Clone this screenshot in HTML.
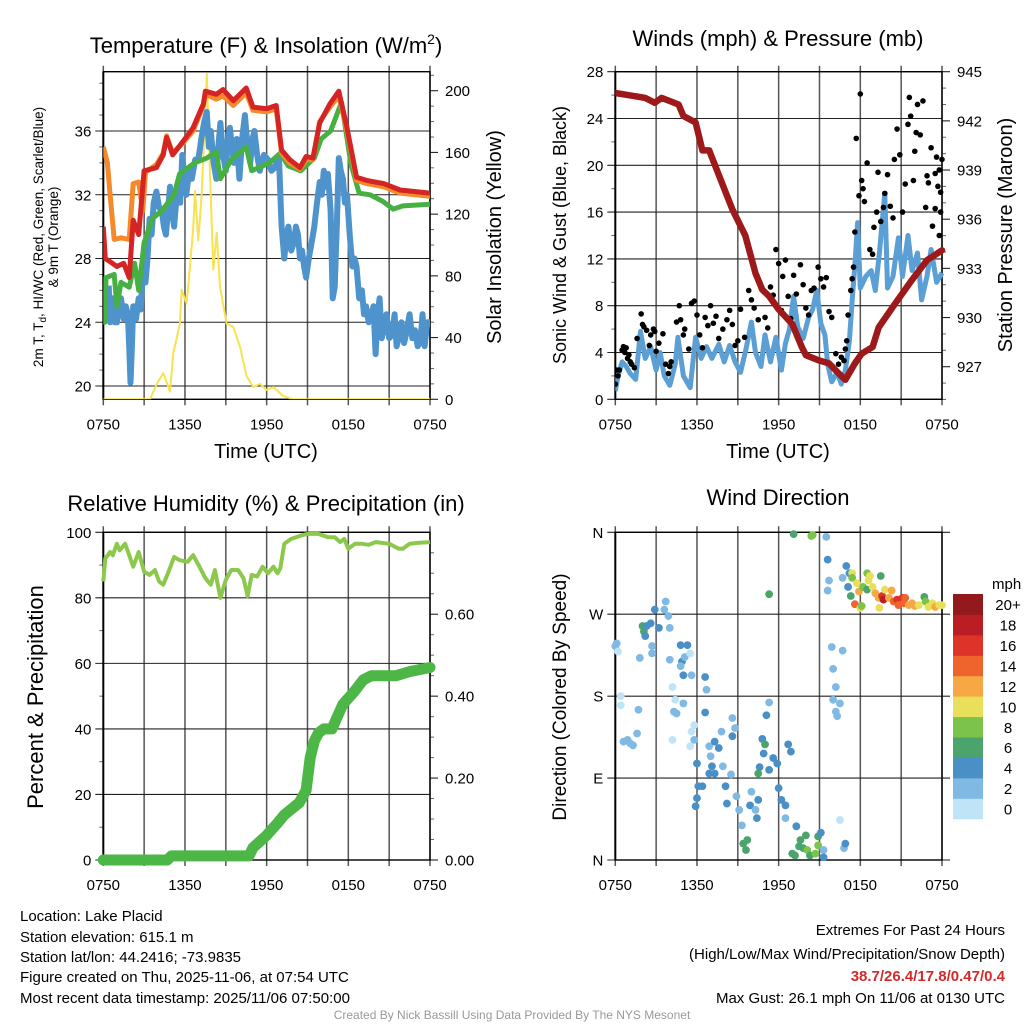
<!DOCTYPE html>
<html><head><meta charset="utf-8"><style>
html,body{margin:0;padding:0;background:#fff;}
svg{display:block;font-family:"Liberation Sans",Arial,sans-serif;}
</style></head><body>
<svg id="fig" width="1024" height="1024" viewBox="0 0 1024 1024" xmlns="http://www.w3.org/2000/svg">
<rect width="1024" height="1024" fill="#fff"/>
<g id="layer"></g>
<text x="266" y="53" text-anchor="middle" font-size="22">Temperature (F) &amp; Insolation (W/m<tspan font-size="14" dy="-9">2</tspan><tspan dy="9">)</tspan></text>
<text x="778" y="46" text-anchor="middle" font-size="22">Winds (mph) &amp; Pressure (mb)</text>
<text x="266" y="511" text-anchor="middle" font-size="22">Relative Humidity (%) &amp; Precipitation (in)</text>
<text x="778" y="505" text-anchor="middle" font-size="22">Wind Direction</text>
<text x="266" y="458" text-anchor="middle" font-size="20">Time (UTC)</text>
<text x="778" y="458" text-anchor="middle" font-size="20">Time (UTC)</text>
<text transform="translate(43,237) rotate(-90)" text-anchor="middle" font-size="13.5">2m T, T<tspan font-size="10" dy="3">d</tspan><tspan dy="-3">, HI/WC (Red, Green, Scarlet/Blue)</tspan></text>
<text transform="translate(58,237) rotate(-90)" text-anchor="middle" font-size="13.5">&amp; 9m T (Orange)</text>
<text transform="translate(501,237) rotate(-90)" text-anchor="middle" font-size="20">Solar Insolation (Yellow)</text>
<text transform="translate(566,235) rotate(-90)" text-anchor="middle" font-size="18">Sonic Wind &amp; Gust (Blue, Black)</text>
<text transform="translate(1012,235) rotate(-90)" text-anchor="middle" font-size="20">Station Pressure (Maroon)</text>
<text transform="translate(43,697) rotate(-90)" text-anchor="middle" font-size="22">Percent &amp; Precipitation</text>
<text transform="translate(566,697) rotate(-90)" text-anchor="middle" font-size="19">Direction (Colored By Speed)</text>
<g font-size="15">
<text x="20" y="921">Location: Lake Placid</text>
<text x="20" y="942">Station elevation: 615.1 m</text>
<text x="20" y="962">Station lat/lon: 44.2416; -73.9835</text>
<text x="20" y="982">Figure created on Thu, 2025-11-06, at 07:54 UTC</text>
<text x="20" y="1003">Most recent data timestamp: 2025/11/06 07:50:00</text>
</g>
<g font-size="15" text-anchor="end">
<text x="1005" y="935">Extremes For Past 24 Hours</text>
<text x="1005" y="959">(High/Low/Max Wind/Precipitation/Snow Depth)</text>
<text x="1005" y="981" fill="#d42a2a" font-weight="bold">38.7/26.4/17.8/0.47/0.4</text>
<text x="1005" y="1003">Max Gust: 26.1 mph On 11/06 at 0130 UTC</text>
</g>
<text x="512" y="1019" text-anchor="middle" font-size="12" fill="#999">Created By Nick Bassill Using Data Provided By The NYS Mesonet</text>
</svg>
<script>
// ---- DATA ----
const timeTicks = ["0750","1350","1950","0150","0750"];
const redT_h = [0,0.15,0.5,1.0,1.5,1.9,2.2,2.6,3.0,3.9,4.4,4.65,5.1,5.9,6.6,7.35,7.5,8.3,8.8,9.55,10.5,11.0,12.0,12.7,13.1,13.7,14.45,14.9,15.4,15.9,16.65,17.3,17.9,18.6,19.35,20.6,21.8,24];
const redT_v = [30,28,27.8,27.5,27.7,26.8,30.4,29.5,33.5,33.7,34.5,35.6,34.5,35.4,36.2,37.7,38.5,38.3,38.6,37.9,38.7,37.5,37.4,37.6,34.8,34.2,33.7,34.4,34.3,36.5,37.7,38.5,36.2,33.1,32.9,32.7,32.3,32.1];
const orangeT_h = [0,0.3,0.5,0.8,1.3,1.9,2.2,2.6,2.9,3.1,3.9,4.4,4.65,5.1,5.9,6.6,7.35,7.5,8.3,8.8,9.55,10.5,11.0,12.0,12.7,13.1,13.7,14.45,14.9,15.4,15.9,16.65,17.3,17.9,18.6,19.35,20.6,21.8,24];
const orangeT_v = [35,34,32,29.2,29.3,29.2,32.7,32.8,31,33.4,33.9,34.6,35.7,34.6,35.3,36,37.6,38.3,38,38.2,37.6,38.4,37.3,37.2,37.4,34.6,34,33.6,34.2,34.2,36.6,37.5,38.2,36,32.9,32.7,32.5,32.1,31.9];
const greenT_h = [0,0.1,0.2,0.8,1.0,1.3,1.9,2.3,2.6,3.0,3.6,4.3,5.2,5.6,6.7,7.6,8.3,8.6,9.4,10.5,10.9,12.2,13.0,13.6,14.5,15.5,16.0,16.7,17.5,18.2,18.8,19.6,20.5,21.3,22.0,24];
const greenT_v = [25.7,24,26.8,27,25,26.5,26.2,27.7,26,29,30.5,31,32,33.3,34,34.3,34.7,33,34.2,35,33.5,34,34.6,33.8,33.5,34.3,35.5,36,37.8,33.9,32.1,32,31.6,31.1,31.3,31.4];
const blueT_h = [0.4,0.5,0.7,0.85,1.0,1.15,1.3,1.5,1.65,1.8,1.9,2.0,2.1,2.2,2.4,2.6,2.75,2.9,3.1,3.25,3.4,3.55,3.7,3.9,4.1,4.3,4.45,4.6,4.75,4.9,5.05,5.2,5.35,5.5,5.65,5.8,5.95,6.1,6.3,6.5,6.75,7.0,7.2,7.4,7.6,7.75,7.9,8.1,8.3,8.45,8.6,8.8,9.0,9.15,9.3,9.45,9.6,9.8,10.0,10.2,10.4,10.6,10.8,10.95,11.1,11.3,11.5,11.8,12.1,12.35,12.6,12.9,13.1,13.3,13.45,13.6,13.8,14.0,14.15,14.3,14.45,14.6,14.75,14.9,15.1,15.3,15.5,15.7,15.9,16.05,16.2,16.35,16.5,16.7,16.85,17.0,17.15,17.3,17.45,17.6,17.75,17.9,18.1,18.3,18.45,18.6,18.8,19.0,19.15,19.3,19.5,19.7,19.85,20.0,20.15,20.3,20.45,20.6,20.8,21.0,21.2,21.4,21.55,21.7,21.9,22.1,22.3,22.5,22.7,22.9,23.1,23.3,23.45,23.6,23.8,24];
const blueT_v = [26.3,24,25.5,24,24,25,25.5,24.2,25,24.5,22.5,20.2,22.5,25,24.2,25.5,24.8,27,26.5,28,30.5,29.5,31.5,32.2,31.2,31,30,29.5,31,32.5,31,30,31.5,32.5,31.5,34.5,33,32,33.5,33,34.2,34.3,35.5,36.5,37.2,35,36,34,33,35,36.5,34.5,33.5,35.5,36.2,35,34,35.5,33,35.5,37,35,34,35.5,36,34.5,33.5,34.5,34.2,33.5,33.7,34.4,30,28,29.5,30,28.5,29,30,29.5,28,28.5,27.5,26.8,28,29,30,31.5,32.8,32,33.5,32.5,33.3,31,25.5,26.2,30,34.3,33.5,33,31.5,32,29.5,27.5,28,27.5,25.5,26,24.5,25,24,24.5,25,22,24.5,25.5,23,23.5,24.5,23,23.2,24.5,22.5,23,24,22.7,23.5,24.5,23,23.5,22.5,22.8,24.5,22.5,24,24];
const solar_h = [0,3.43,3.92,4.41,4.9,5.14,5.63,5.76,6.12,6.37,6.61,6.74,6.98,7.23,7.6,7.84,8.08,8.33,8.57,9.06,9.55,10.04,10.53,11.02,11.51,12.0,12.49,13.23,13.96,24];
const solar_v = [0,0,10,17,5,30,49,71,62,86,112,135,103,133,211,146,84,108,73,49,47,34,15,8,10,6,8,2,0,0];

const pres_h = [0,2.2,2.9,3.4,4.65,5.0,5.9,6.4,6.9,7.6,8.6,9.55,10.3,10.8,11.3,12.0,13.0,13.7,14.0,14.9,15.7,16.4,16.9,17.6,18.1,18.9,19.35,20.6,21.8,22.9,24];
const pres_v = [943.7,943.4,943.1,943.4,943.0,942.3,941.9,940.2,940.2,938.7,936.6,935.0,932.7,931.7,931.3,930.5,929.6,928.2,927.7,927.4,927.2,926.6,926.2,927.2,927.8,928.2,929.4,930.9,932.3,933.5,934.1];
const wind_h = [0,0.2,0.5,0.8,1.1,1.5,1.85,2.2,2.6,3.0,3.3,3.6,4.0,4.4,4.6,5.0,5.5,5.9,6.3,6.7,7.1,7.6,8.0,8.4,8.8,9.2,9.6,10.0,10.3,10.7,11.0,11.4,11.8,12.2,12.5,12.8,13.1,13.4,13.8,14.2,14.5,14.8,15.1,15.4,15.6,15.9,16.3,16.6,16.9,17.2,17.4,17.6,17.8,18.0,18.4,18.8,19.1,19.4,19.8,20.0,20.4,20.8,21.1,21.5,21.8,22.2,22.5,22.9,23.2,23.6,24];
const wind_v = [0.7,2,3.2,2.8,2.2,1.7,5.8,3.5,4.5,2.5,4.0,2.0,1.2,3.0,5.3,2.0,1.0,5.3,3.5,4.5,3.5,4.7,3.2,4.6,3.2,2.3,4.3,6.6,4.0,2.8,5.5,3.2,5.3,2.5,4.8,6.0,8.8,6.2,5.2,7.0,7.7,9.3,6.5,5.5,3.0,1.5,2.3,1.3,2.5,5.0,8.5,11.5,15.1,9.5,10.5,11.0,9.3,12.5,17.6,9.5,10.5,13.8,10.5,14.0,11.0,12.5,8.5,10.5,12.8,10.0,10.8];
const gust_h = [0.0,0.1,0.2,0.3,0.5,0.6,0.7,0.8,0.9,1.0,1.1,1.2,1.4,1.6,1.9,2.0,2.1,2.3,2.5,2.6,2.8,2.9,3.0,3.2,3.5,3.7,3.9,4.0,4.1,4.5,4.7,4.8,5.0,5.1,5.4,5.6,5.8,6.0,6.2,6.4,6.6,6.8,7.0,7.2,7.4,7.6,7.9,8.2,8.4,8.6,8.8,9.0,9.2,9.5,9.8,10.0,10.2,10.5,10.8,11.0,11.2,11.4,11.6,11.8,12.0,12.2,12.3,12.5,12.7,12.9,13.1,13.3,13.6,13.8,14.0,14.2,14.4,14.6,14.9,15.1,15.3,15.5,15.7,15.9,16.2,16.4,16.6,16.8,16.9,17.0,17.1,17.3,17.4,17.5,17.6,17.7,17.9,18.0,18.1,18.2,18.3,18.5,18.7,18.9,19.0,19.2,19.3,19.5,19.7,19.8,20.0,20.2,20.4,20.5,20.7,20.9,21.1,21.3,21.5,21.6,21.7,21.9,22.0,22.1,22.2,22.4,22.6,22.8,22.9,23.0,23.2,23.3,23.5,23.5,23.6,23.7,23.8,23.8,23.9,23.9,24.0];
const gust_v = [1.3,2.5,2.0,2.5,4.2,4.5,4.0,4.4,3.5,3.8,3.2,3.0,2.7,5.2,7.3,6.4,6.2,5.9,4.6,5.5,6.0,5.8,4.1,4.8,5.6,3.0,2.2,2.8,3.2,6.6,8.0,6.8,5.5,6.0,4.3,8.2,8.4,7.2,5.5,4.4,7.0,6.3,8.0,6.5,7.1,5.2,6.0,6.8,7.6,6.4,4.6,5.0,7.7,5.3,9.3,8.5,7.8,6.8,9.4,7.0,6.1,9.6,8.9,12.8,11.6,7.6,10.5,11.9,8.8,6.9,10.6,9.0,11.5,9.8,7.8,7.2,9.3,9.5,11.3,10.3,9.6,10.4,7.5,7.0,3.9,3.0,3.6,3.3,4.3,5.0,7.2,9.3,10.3,11.3,14.3,22.3,17.4,26.1,18.7,18.0,16.9,20.2,12.8,12.4,14.7,16.0,19.4,15.2,16.4,17.6,19.2,16.5,15.5,20.5,23.1,20.9,16.0,18.4,23.5,25.8,24.2,18.7,21.2,22.8,25.2,22.6,25.5,16.4,19.1,18.5,21.5,14.8,19.3,16.3,20.7,18.2,14.0,19.6,17.7,16.0,20.5];

const rh_h = [0,0.15,0.5,0.7,1.0,1.2,1.6,1.9,2.2,2.6,3.0,3.4,3.8,4.1,4.4,4.8,5.2,5.6,6.2,6.6,7.0,7.5,7.9,8.2,8.6,9.0,9.4,9.9,10.3,10.6,10.9,11.3,11.7,12.1,12.5,12.8,13.0,13.3,13.8,14.5,15.0,15.8,16.5,17.0,17.4,17.7,18.0,18.5,19.0,19.5,20.0,21.0,21.7,22.0,22.5,23.2,24];
const rh_v = [85,92,94,93,96.5,94.5,96.5,93,89.5,94,88,87,88.5,85,84,88,92.5,91.5,91,93,90,86,84,88.5,80,85.5,88.5,88.5,86,80.5,87,86.5,89.5,87.5,89.5,87.5,89,96.5,98,99,99.5,99.5,98.5,98.5,97,98,95,96.5,96.5,96.2,97,96.5,95,95,96.5,96.8,97];
const pcp_h = [0,4.7,5.0,10.7,11.0,12.0,12.8,13.3,14.4,14.9,15.2,15.5,15.8,16.2,16.8,17.2,17.6,18.4,19.1,19.7,21.5,22.5,24];
const pcp_v = [0,0,0.01,0.01,0.03,0.06,0.09,0.11,0.14,0.17,0.25,0.29,0.31,0.32,0.32,0.35,0.38,0.41,0.44,0.45,0.45,0.46,0.47];

const dir_h = [0,0.1,0.2,0.4,0.4,0.6,0.9,1.1,1.3,1.6,1.7,1.8,2.0,2.1,2.2,2.3,2.6,2.7,2.7,2.9,3.2,3.6,3.7,3.9,4.0,4.0,4.2,4.4,4.3,4.5,4.2,4.8,4.9,4.8,5.0,5.0,5.1,5.3,5.5,5.6,5.8,5.6,5.5,5.8,6.0,6.1,6.4,6.0,5.9,6.6,6.7,6.6,6.9,7.0,7.1,7.3,7.6,6.9,7.3,7.8,7.9,8.1,8.2,8.5,8.6,8.6,8.8,8.9,9.1,9.3,9.4,9.6,9.7,9.9,10.0,10.3,10.4,10.5,10.6,10.5,10.8,11.0,10.9,11.1,11.3,11.3,11.3,11.6,11.9,12.0,12.2,12.5,12.5,12.7,12.9,13.1,13.0,13.2,13.3,13.5,13.6,13.8,14.0,14.1,14.3,14.4,14.5,14.7,14.9,14.9,15.1,15.3,15.3,15.5,15.6,15.7,15.6,15.9,16.0,16.0,16.2,16.2,16.3,16.5,16.5,16.7,16.8,16.9,16.7,16.97,17.1,17.2,17.3,17.4,17.4,17.6,17.75,17.9,18.0,18.1,18.2,18.5,18.5,18.6,18.7,18.9,19.1,19.35,19.4,19.5,19.6,19.7,19.8,20.1,20.3,20.45,20.7,20.8,21.1,21.2,21.3,21.55,21.8,22.0,22.3,22.7,22.8,23.0,23.3,23.5,23.8,24];
const dir_v = [235,238,229,180,170,130,132,128,126,139,165,222,257,251,246,257,260,235,227,275,255,275,284,268,255,220,190,176,163,161,132,236,218,213,203,172,223,236,227,203,148,141,125,132,106,81,81,68,59,201,187,162,125,114,103,130,123,95,95,141,103,81,62,94,156,136,145,70,55,38,18,11,22,60,75,55,46,66,102,95,133,127,117,159,292,173,99,112,106,79,66,60,46,127,119,358,7,5,37,15,22,13,27,11,5,356,357,7,26,16,30,11,3,355,330,307,296,234,210,176,190,163,158,172,44,230,13,18,310,323,300,315,290,315,310,281,304,295,277,279,300,315,297,307,312,300,293,288,277,312,290,286,297,288,296,284,286,280,288,282,288,280,282,279,280,289,284,278,282,278,280,280];
const dir_s = [2,2,1.5,1,1,3,3,3,3,3,3,3,7,6,5,5,4,3,3,5,5,3,3,3,3,3,1,1,3,2,1,5,5,3,5,3,3,5,1,3,1,1,1,2,5,5,5,5,5,5,3,5,3,3,5,5,5,5,5,3,3,5,5,3,3,5,3,3,3,3,6,7,6,5,3,3,5,5,4,7,5,6,5,4,6,3,5,5,5,5,5,5,3,5,5,6,7,6,5,7,7,7,6,8,7,8,8,8,6,8,5,3,4,3,5,3,3,3,3,3,3,3,3,3,1,2,3,5,3,5,5,5,6,10,8,14,10,12,10,8,8,8,7,10,10,10,12,12,10,6,16,18,10,12,12,14,16,14,16,14,14,12,12,12,10,7,8,10,10,12,10,10];
const speedBins = ["0","2","4","6","8","10","12","14","16","18","20+"];
const speedColors = ["#bfe4f7","#80bae4","#4a8fc6","#4aa46c","#7bc34b","#e8e05a","#f6a845","#ef642d","#dd3328","#ba1d24","#921a1c"];

// ---- helpers ----
const NS = "http://www.w3.org/2000/svg";
const layer = document.getElementById("layer");
function mk(tag, attrs, parent){
  const e = document.createElementNS(NS, tag);
  for (const k in attrs) e.setAttribute(k, attrs[k]);
  (parent||layer).appendChild(e);
  return e;
}
function lin(d0,d1,r0,r1){ return v => r0 + (v-d0)/(d1-d0)*(r1-r0); }
function pathD(xs, ys, sx, sy){
  let d = "";
  for (let i=0;i<xs.length;i++) d += (i?"L":"M") + sx(xs[i]).toFixed(1) + "," + sy(ys[i]).toFixed(1);
  return d;
}
function range(a,b,s){ const r=[]; for(let v=a; v<=b+1e-9; v+=s) r.push(+v.toFixed(4)); return r; }

function frame(name, L, R, T, B, sx, yTicks, sy, yLabels, yMinor, rTicks, sr, rLabels, rMinor){
  const g = mk("g", {});
  
  
  for (let h=0; h<=24; h+=3){
    const x = sx(h);
    const ln = mk("line", {x1:x, x2:x, y1:T-6, y2:B+6, stroke:"#555", "stroke-width":1.5}, g);
    
    
  }
  yTicks.forEach((v,i)=>{
    const y = sy(v);
    const ln = mk("line", {x1:L-8, x2:R + (rTicks?0:8), y1:y, y2:y, stroke:"#222", "stroke-width":1.1}, g);
    
    
    const t = mk("text", {x:L-12, y:y+5.5, "text-anchor":"end", "font-size":15}, g);
    t.textContent = yLabels[i];
    
    
  });
  yMinor.forEach(v=>{ const y=sy(v); mk("line",{x1:L-4,x2:L,y1:y,y2:y,stroke:"#666","stroke-width":1},g); });
  if (rTicks){
    rTicks.forEach((v,i)=>{
      const y = sr(v);
      mk("line",{x1:R,x2:R+8,y1:y,y2:y,stroke:"#222","stroke-width":1.1},g);
      const t = mk("text", {x:R+15, y:y+5.5, "font-size":15}, g);
      t.textContent = rLabels[i];
      
      
    });
    rMinor.forEach(v=>{ const y=sr(v); mk("line",{x1:R,x2:R+4,y1:y,y2:y,stroke:"#666","stroke-width":1},g); });
  }
  mk("rect",{x:L,y:T,width:R-L,height:B-T,fill:"none",stroke:"#000","stroke-width":1.4},g);
  mk("line",{x1:L,x2:L,y1:T,y2:B,stroke:"#000","stroke-width":2},g);
  timeTicks.forEach((lab,i)=>{
    const t = mk("text",{x:sx(i*6), y:B+30, "text-anchor":"middle", "font-size":15}, g);
    t.textContent = lab;
    
    
  });
}

// ---------- Panel 1 ----------
(function(){
  const L=103.3,R=430,T=71.7,B=399.3;
  const sx = lin(0,24,L,R);
  const sy = lin(20,36,386,131);
  const sr = lin(0,200,399.3,90.7);
  frame("temperature", L,R,T,B,sx,[20,24,28,32,36],sy,["20","24","28","32","36"],range(21,39,1).filter(v=>v%4!==0),
        [0,40,80,120,160,200],sr,["0","40","80","120","160","200"],range(10,210,10).filter(v=>v%40!==0));
  const clip = mk("clipPath",{id:"c1"}); mk("rect",{x:L,y:T,width:R-L,height:B-T},clip);
  const g = mk("g",{"clip-path":"url(#c1)"});
  const p1 = mk("path",{d:pathD(solar_h,solar_v,sx,sr),fill:"none",stroke:"#f7e24f","stroke-width":2,"stroke-linejoin":"round"},g);
  
  
  const p2 = mk("path",{d:pathD(blueT_h,blueT_v,sx,sy),fill:"none",stroke:"#4f93cc","stroke-width":6,"stroke-linejoin":"round"},g);
  
  
  const p3 = mk("path",{d:pathD(greenT_h,greenT_v,sx,sy),fill:"none",stroke:"#46b043","stroke-width":5,"stroke-linejoin":"round"},g);
  
  
  const p4 = mk("path",{d:pathD(orangeT_h,orangeT_v,sx,sy),fill:"none",stroke:"#f48a2c","stroke-width":5,"stroke-linejoin":"round"},g);
  
  
  const p5 = mk("path",{d:pathD(redT_h,redT_v,sx,sy),fill:"none",stroke:"#d42424","stroke-width":5,"stroke-linejoin":"round"},g);
  
  
})();

// ---------- Panel 2 ----------
(function(){
  const L=615.3,R=942,T=71.7,B=399.3;
  const sx = lin(0,24,L,R);
  const sy = lin(0,28,B,T);
  const sr = lin(927,945,366.7,71.7);
  frame("winds", L,R,T,B,sx,[0,4,8,12,16,20,24,28],sy,["0","4","8","12","16","20","24","28"],range(2,26,4),
        [927,930,933,936,939,942,945],sr,["927","930","933","936","939","942","945"],range(925,945,1).filter(v=>v%3!==0));
  const clip = mk("clipPath",{id:"c2"}); mk("rect",{x:L,y:T-3,width:R-L+4,height:B-T+3},clip);
  const g = mk("g",{"clip-path":"url(#c2)"});
  const pw = mk("path",{d:pathD(wind_h,wind_v,sx,sy),fill:"none",stroke:"#5b9fd5","stroke-width":5,"stroke-linejoin":"round"},g);
  
  
  gust_h.forEach((h,i)=>{
    const c = mk("circle",{cx:sx(h),cy:sy(gust_v[i]),r:2.8,fill:"#000"},g);
    
    
  });
  const pp = mk("path",{d:pathD(pres_h,pres_v,sx,sr),fill:"none",stroke:"#9e1a1a","stroke-width":6.5,"stroke-linejoin":"round","stroke-linecap":"round"},g);
  
  
})();

// ---------- Panel 3 ----------
(function(){
  const L=103.3,R=430,T=532.3,B=860;
  const sx = lin(0,24,L,R);
  const sy = lin(0,100,B,T);
  const sr = lin(0,0.8,B,T);
  frame("humidity", L,R,T,B,sx,[0,20,40,60,80,100],sy,["0","20","40","60","80","100"],range(10,90,20),
        [0,0.2,0.4,0.6],sr,["0.00","0.20","0.40","0.60"],range(0.05,0.75,0.05).filter(v=>Math.abs(v*5-Math.round(v*5))>1e-6));
  const g = mk("g",{});
  const pr = mk("path",{d:pathD(rh_h,rh_v,sx,sy),fill:"none",stroke:"#8cc84b","stroke-width":4,"stroke-linejoin":"round"},g);
  
  
  const pc = mk("path",{d:pathD(pcp_h,pcp_v,sx,sr),fill:"none",stroke:"#4cb647","stroke-width":11,"stroke-linejoin":"round","stroke-linecap":"round"},g);
  
  
})();

// ---------- Panel 4 ----------
(function(){
  const L=615.3,R=942,T=532.3,B=860;
  const sx = lin(0,24,L,R);
  const sy = lin(0,360,B,T);
  frame("wind-direction", L,R,T,B,sx,[0,90,180,270,360],sy,["N","E","S","W","N"],[],null,null,null,null);
  const g = mk("g",{});
  dir_h.forEach((h,i)=>{
    const bi = Math.min(10, Math.max(0, Math.floor(dir_s[i]/2)));
    const c = mk("circle",{cx:sx(h),cy:sy(dir_v[i]),r:3.9,fill:speedColors[bi]},g);
    
    
  });
  const cb = mk("g",{});
  
  
  const top=594, h=20.43;
  for (let i=0;i<speedBins.length;i++){
    const y = top + (10-i)*h;
    mk("rect",{x:953,y:y,width:30,height:h+0.5,fill:speedColors[i]},cb);
    const t = mk("text",{x:1008,y:y+h/2+6,"text-anchor":"middle","font-size":15},cb);
    t.textContent = speedBins[i];
    
    
  }
  const u = mk("text",{x:992,y:589,"font-size":15},cb);
  u.textContent = "mph";
  
  
})();
</script>
</body></html>
